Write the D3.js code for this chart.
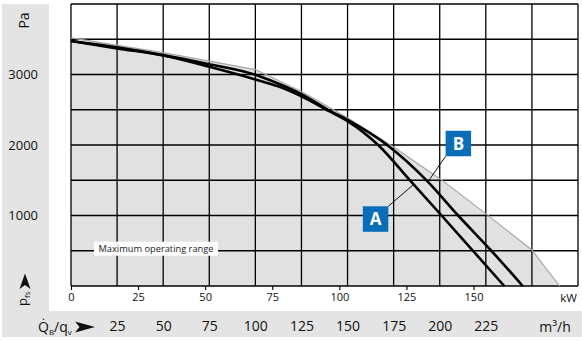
<!DOCTYPE html>
<html>
<head>
<meta charset="utf-8">
<script src="https://cdn.jsdelivr.net/npm/d3@7/dist/d3.min.js"></script>
<style>
  html, body { margin: 0; padding: 0; background: #fff; }
  svg { display: block; }
  text { font-family: "Open Sans", "Noto Sans", "DejaVu Sans", sans-serif; }
</style>
</head>
<body>
<svg id="chart" width="582" height="341"></svg>
<script>
// Fan characteristic A: volume flow (m³/h) and static pressure (Pa)
const flowA     = [0, 25, 50, 75, 100, 112, 125, 140, 150, 167, 184, 201, 218, 235];
const pressureA = [3475, 3370, 3270, 3110, 2930, 2835, 2690, 2480, 2340, 1990, 1495, 1000, 500, 0];

// Fan characteristic B
const flowB     = [0, 25, 50, 75, 100, 112, 125, 140, 150, 172, 193, 210, 228, 245];
const pressureB = [3475, 3385, 3275, 3145, 2995, 2875, 2720, 2490, 2355, 1990, 1495, 1000, 500, 0];

// Envelope of the maximum operating range
const rangeFlow     = [0, 50, 100, 125, 150, 175, 201, 226, 250, 265];
const rangePressure = [3520, 3310, 3070, 2760, 2385, 1970, 1505, 1005, 510, 0];

// Axis ticks
const pressureTicks = [1000, 2000, 3000];
const flowTicks     = [25, 50, 75, 100, 125, 150, 175, 200, 225];
const powerTicks    = [0, 25, 50, 75, 100, 125, 150];
const gridFlow      = d3.range(0, 276, 25);
const gridPressure  = d3.range(0, 4001, 500);

const curveLabels = [
  { name: "A", flow: 165.2, pressure: 950,  tipFlow: 185.5, tipPressure: 1433, corner: [1, -1] },
  { name: "B", flow: 210.1, pressure: 2021, tipFlow: 193.9, tipPressure: 1489, corner: [-1, 1] }
];

const svg = d3.select("#chart");

const x  = d3.scaleLinear().domain([0, 275]).range([71, 578]);
const y  = d3.scaleLinear().domain([0, 4000]).range([286, 4]);
const kw = d3.scaleLinear().domain([0, 150]).range([71, 473.5]);

const panelFill = "#e4e4e4";

// Side and bottom panels
svg.append("rect").attr("x", 2).attr("y", 4).attr("width", 47).attr("height", 307).attr("fill", panelFill);
svg.append("rect").attr("x", 2).attr("y", 311).attr("width", 580).attr("height", 26).attr("fill", panelFill);

// Operating range area
const pts = (fx, fy) => fx.map((v, i) => [v, fy[i]]);
const rangePts = pts(rangeFlow, rangePressure);

svg.append("path")
  .datum(rangePts)
  .attr("fill", "#e1e1e1")
  .attr("d", d3.area().x(d => x(d[0])).y0(y(0)).y1(d => y(d[1])));

// Grid
const grid = svg.append("g").attr("stroke", "#000").attr("stroke-width", 1.3);
grid.selectAll("line.v").data(gridFlow).join("line")
  .attr("class", "v")
  .attr("x1", d => x(d)).attr("x2", d => x(d))
  .attr("y1", y(4000)).attr("y2", y(0));
grid.selectAll("line.h").data(gridPressure).join("line")
  .attr("class", "h")
  .attr("x1", x(0)).attr("x2", x(275))
  .attr("y1", d => y(d)).attr("y2", d => y(d));

// Envelope outline
svg.append("path")
  .datum(rangePts)
  .attr("fill", "none")
  .attr("stroke", "#a6a6a6")
  .attr("stroke-width", 1.2)
  .attr("d", d3.line().x(d => x(d[0])).y(d => y(d[1])));

// Characteristic curves
const curveLine = d3.line().x(d => x(d[0])).y(d => y(d[1])).curve(d3.curveMonotoneX);
[pts(flowA, pressureA), pts(flowB, pressureB)].forEach(p => {
  svg.append("path")
    .datum(p)
    .attr("fill", "none")
    .attr("stroke", "#000")
    .attr("stroke-width", 2.6)
    .attr("stroke-linejoin", "round")
    .attr("d", curveLine);
});

// Range label
const labelG = svg.append("g");
labelG.append("rect")
  .attr("x", 94).attr("y", 241.7).attr("width", 124).attr("height", 14)
  .attr("fill", "#fff");
labelG.append("text")
  .attr("x", 98.5).attr("y", 252.3)
  .attr("font-size", 9.5)
  .attr("fill", "#1a1a1a")
  .attr("textLength", 115)
  .attr("lengthAdjust", "spacingAndGlyphs")
  .text("Maximum operating range");

// Curve labels with leaders
const box = 25.5;
curveLabels.forEach(l => {
  const cx = x(l.flow), cy = y(l.pressure);
  const kx = cx + l.corner[0] * box / 2, ky = cy + l.corner[1] * box / 2;
  svg.append("line")
    .attr("x1", kx).attr("y1", ky)
    .attr("x2", x(l.tipFlow)).attr("y2", y(l.tipPressure))
    .attr("stroke", "#111").attr("stroke-width", 1);
  svg.append("rect")
    .attr("x", cx - box / 2).attr("y", cy - box / 2)
    .attr("width", box).attr("height", box)
    .attr("fill", "#0a6dba");
  svg.append("text")
    .attr("x", cx).attr("y", cy + 6)
    .attr("text-anchor", "middle")
    .attr("font-size", 17).attr("font-weight", "bold")
    .attr("fill", "#fff")
    .text(l.name);
});

// Power axis (kW)
const kwAxis = svg.append("g")
  .attr("transform", `translate(0,${y(0)})`)
  .call(d3.axisBottom(kw).tickValues(powerTicks).tickSize(4).tickPadding(3.5).tickSizeOuter(0));
kwAxis.select(".domain").remove();
kwAxis.attr("font-family", null).attr("font-size", null);
kwAxis.selectAll(".tick line").attr("stroke", "#000").attr("stroke-width", 1.1);
kwAxis.selectAll(".tick text").attr("font-size", 11).attr("fill", "#111");
svg.append("text").attr("x", 577).attr("y", 301.5)
  .attr("text-anchor", "end").attr("font-size", 11.5).attr("fill", "#111").text("kW");

// Flow axis (m³/h)
const flowAxis = svg.append("g")
  .attr("transform", "translate(0,318)")
  .call(d3.axisBottom(x).tickValues(flowTicks).tickSize(0).tickPadding(3.5).tickFormat(d3.format("d")));
flowAxis.select(".domain").remove();
flowAxis.attr("font-family", null).attr("font-size", null);
flowAxis.selectAll(".tick text").attr("font-size", 14).attr("fill", "#111");
svg.append("text").attr("x", 555).attr("y", 331.5)
  .attr("text-anchor", "middle").attr("font-size", 14).attr("fill", "#111")
  .text("m³/h");

// Flow axis title with arrow
const qTitle = svg.append("text").attr("x", 38).attr("y", 331.5).attr("font-size", 14).attr("fill", "#111");
qTitle.append("tspan").text("Q\u0307");
qTitle.append("tspan").attr("font-size", 8).attr("dy", 3.5).text("B");
qTitle.append("tspan").attr("dy", -3.5).text("/q");
qTitle.append("tspan").attr("font-size", 8).attr("dy", 3.5).text("v");
svg.append("path")
  .attr("d", "M75,321.5 L95,327 L75,332.5 L79.5,327 Z")
  .attr("fill", "#111");

// Pressure axis (Pa)
const pAxis = svg.append("g")
  .attr("transform", "translate(38,0)")
  .call(d3.axisLeft(y).tickValues(pressureTicks).tickSize(0).tickPadding(0).tickFormat(d3.format("d")));
pAxis.select(".domain").remove();
pAxis.attr("font-family", null).attr("font-size", null);
pAxis.selectAll(".tick text").attr("font-size", 13).attr("fill", "#111");

svg.append("text")
  .attr("transform", "translate(28.5,20.5) rotate(-90)")
  .attr("text-anchor", "middle").attr("font-size", 14).attr("fill", "#111")
  .text("Pa");

// Pressure axis title with arrow
const pTitle = svg.append("text")
  .attr("transform", "translate(27,306) rotate(-90)")
  .attr("font-size", 13).attr("fill", "#111");
pTitle.append("tspan").text("p");
pTitle.append("tspan").attr("font-size", 8).attr("dy", 3).text("fs");
svg.append("path")
  .attr("d", "M19.5,289 L25,273.5 L30.5,289 L25,285 Z")
  .attr("fill", "#111");
</script>
</body>
</html>
